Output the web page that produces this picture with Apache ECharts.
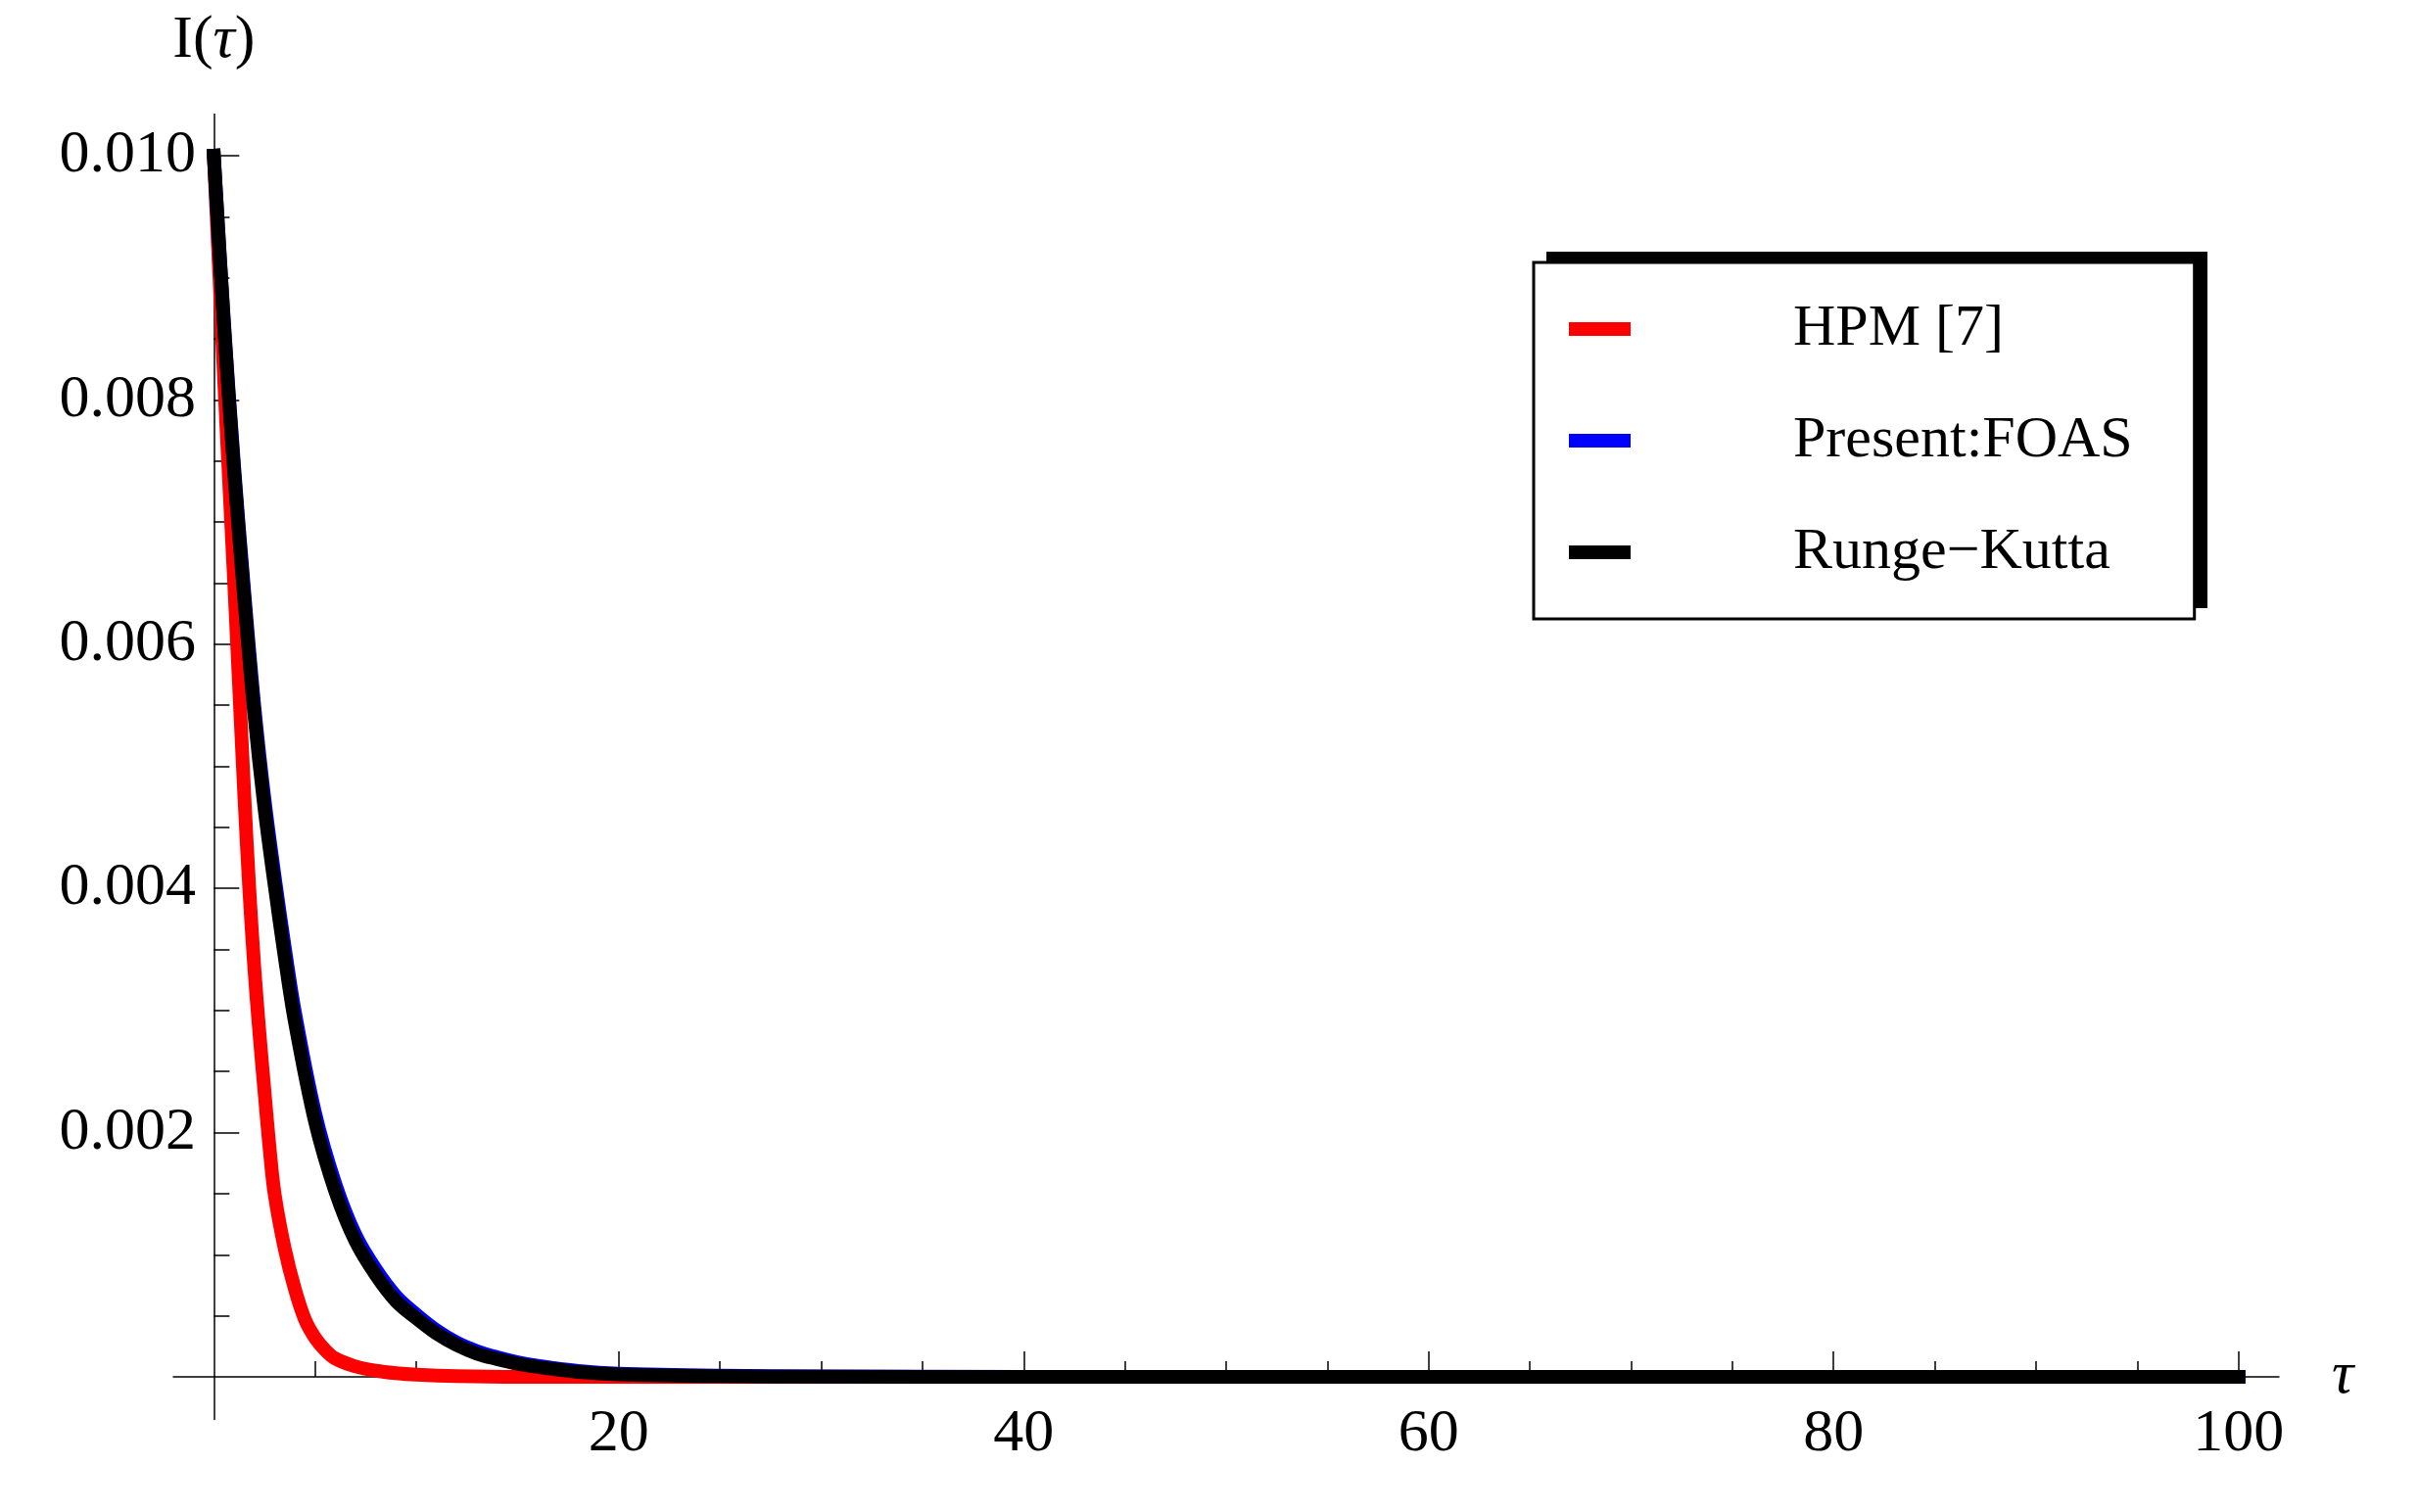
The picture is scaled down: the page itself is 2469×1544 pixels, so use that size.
<!DOCTYPE html>
<html>
<head>
    <meta charset="UTF-8">
    <title>I(τ) comparison</title>
    <script src="https://cdn.jsdelivr.net/npm/echarts/dist/echarts.min.js"></script>
    <style>
        html, body { margin: 0; padding: 0; background: #fff; }
        #main { width: 2469px; height: 1544px; }
    </style>
</head>
<body>
    <div id="main"></div>

    <script>
        // ---- data ----
        const hpmTau = [0, 0.25, 0.5, 0.75, 1, 1.25, 1.5, 1.75, 2, 2.25, 2.5, 2.75, 3, 3.5, 4, 4.5, 5, 5.5, 6, 7, 8, 9, 10, 12, 15, 20, 40, 60, 80, 100];
        const hpmI = [0.0100, 0.0091, 0.0082, 0.00735, 0.00652, 0.00565, 0.00478, 0.0040, 0.00335, 0.00282, 0.00234, 0.00188, 0.0015, 0.00105, 0.00072, 0.00047, 0.00032, 0.00022, 0.00015, 0.000085, 0.00005, 0.00003, 0.000018, 0.000006, 0, 0, 0, 0, 0, 0];

        const foasTau = [0, 0.5, 1, 1.5, 2, 2.5, 3, 3.5, 4, 5, 6, 7, 8, 9, 10, 11, 12, 13, 14, 15, 16, 18, 20, 25, 30, 40, 60, 80, 100];
        const foasI = [0.0100, 0.00864, 0.00746, 0.00643, 0.00549, 0.00473, 0.0041, 0.00352, 0.00299, 0.00216, 0.00158, 0.00116, 0.00088, 0.00066, 0.00051, 0.00038, 0.00028, 0.00021, 0.00016, 0.00012, 0.00009, 0.000048, 0.000026, 0.000009, 0.000003, 0, 0, 0, 0];

        const rkTau = [0, 0.5, 1, 1.5, 2, 2.5, 3, 3.5, 4, 5, 6, 7, 8, 9, 10, 11, 12, 13, 14, 15, 16, 18, 20, 25, 30, 40, 60, 80, 100];
        const rkI = [0.0100, 0.00862, 0.00742, 0.00638, 0.00543, 0.00466, 0.00403, 0.00344, 0.00291, 0.00209, 0.00152, 0.00111, 0.000835, 0.00062, 0.00048, 0.000355, 0.00026, 0.00019, 0.000145, 0.000107, 0.000081, 0.00004, 0.00002, 0.000005, 0.000001, 0, 0, 0, 0];

        const seriesNames = ['HPM [7]', 'Present:FOAS', 'Runge\u2212Kutta'];
        const seriesColors = ['#ff0000', '#0000ff', '#000000'];

        const xMajorTicks = [20, 40, 60, 80, 100];
        const xMinorTicks = [5, 10, 15, 25, 30, 35, 45, 50, 55, 65, 70, 75, 85, 90, 95];
        const yMajorTicks = [0.002, 0.004, 0.006, 0.008, 0.010];
        const yMinorTicks = [0.0005, 0.001, 0.0015, 0.0025, 0.003, 0.0035, 0.0045, 0.005, 0.0055,
                             0.0065, 0.007, 0.0075, 0.0085, 0.009, 0.0095];

        // ---- look ----
        const FONT = 'Liberation Serif';
        const FS = 62;
        const axisColor = '#000';
        const lineW = 14;

        const zip = (xs, ys) => xs.map((x, i) => [x, ys[i]]);

        const xBase = {
            type: 'value', min: -2, max: 102, position: 'bottom',
            splitLine: { show: false }
        };
        const yBase = {
            type: 'value', min: -0.00035, max: 0.01034, position: 'left',
            splitLine: { show: false }
        };

        const chart = echarts.init(document.getElementById('main'));
        const option = {
            animation: false,
            backgroundColor: '#fff',
            color: seriesColors,
            grid: { left: 177, right: 142, top: 116.6, bottom: 94.4, outerBoundsMode: 'none' },
            // offset shadow behind the legend box
            graphic: [{
                type: 'rect', z: 0,
                shape: { x: 1579, y: 257, width: 675, height: 364 },
                style: { fill: '#000' }
            }],
            legend: {
                orient: 'vertical',
                left: 1566,
                top: 268,
                padding: [38, 63, 38, 36],
                itemWidth: 63,
                itemHeight: 14,
                itemGap: 54,
                icon: 'rect',
                itemStyle: { borderWidth: 0 },
                backgroundColor: '#fff',
                borderColor: '#000',
                borderWidth: 3,
                z: 10,
                textStyle: {
                    fontFamily: FONT, fontSize: 60, lineHeight: 60, color: '#000',
                    padding: [0, 0, 0, 161]
                },
                data: seriesNames
            },
            xAxis: [
                Object.assign({}, xBase, {
                    axisLine: { onZero: true, onZeroAxisIndex: 0, lineStyle: { color: axisColor, width: 1.5 } },
                    axisTick: { inside: true, length: 26, customValues: xMajorTicks, lineStyle: { color: axisColor, width: 1.5 } },
                    axisLabel: { customValues: xMajorTicks, margin: -16, fontFamily: FONT, fontSize: FS, color: '#000' },
                    name: 'τ',
                    nameLocation: 'end',
                    nameGap: 54,
                    nameTextStyle: { fontFamily: FONT, fontStyle: 'italic', fontSize: FS, color: '#000' }
                }),
                Object.assign({}, xBase, {
                    axisLine: { show: false, onZero: true, onZeroAxisIndex: 0 },
                    axisTick: { inside: true, length: 16, customValues: xMinorTicks, lineStyle: { color: axisColor, width: 1.5 } },
                    axisLabel: { show: false }
                })
            ],
            yAxis: [
                Object.assign({}, yBase, {
                    axisLine: { onZero: true, onZeroAxisIndex: 0, lineStyle: { color: axisColor, width: 1.5 } },
                    axisTick: { inside: true, length: 26, customValues: yMajorTicks, lineStyle: { color: axisColor, width: 1.5 } },
                    axisLabel: {
                        customValues: yMajorTicks, margin: -23, fontFamily: FONT, fontSize: FS, color: '#000',
                        formatter: v => v.toFixed(3)
                    },
                    name: '{n|I(}{i|τ}{n|)}',
                    nameLocation: 'end',
                    nameGap: 45,
                    nameTextStyle: {
                        rich: {
                            n: { fontFamily: FONT, fontSize: FS, lineHeight: 60, color: '#000' },
                            i: { fontFamily: FONT, fontStyle: 'italic', fontSize: FS, lineHeight: 60, color: '#000' }
                        }
                    }
                }),
                Object.assign({}, yBase, {
                    axisLine: { show: false, onZero: true, onZeroAxisIndex: 0 },
                    axisTick: { inside: true, length: 16, customValues: yMinorTicks, lineStyle: { color: axisColor, width: 1.5 } },
                    axisLabel: { show: false }
                })
            ],
            series: [
                { name: seriesNames[0], data: zip(hpmTau, hpmI) },
                { name: seriesNames[1], data: zip(foasTau, foasI) },
                { name: seriesNames[2], data: zip(rkTau, rkI) }
            ].map((s, i) => Object.assign(s, {
                type: 'line',
                xAxisIndex: 0,
                yAxisIndex: 0,
                showSymbol: false,
                smooth: 0.35,
                clip: false,
                lineStyle: { width: lineW, color: seriesColors[i], cap: 'square', join: 'round' },
                itemStyle: { color: seriesColors[i] }
            }))
        };

        chart.setOption(option);
    </script>
</body>
</html>
